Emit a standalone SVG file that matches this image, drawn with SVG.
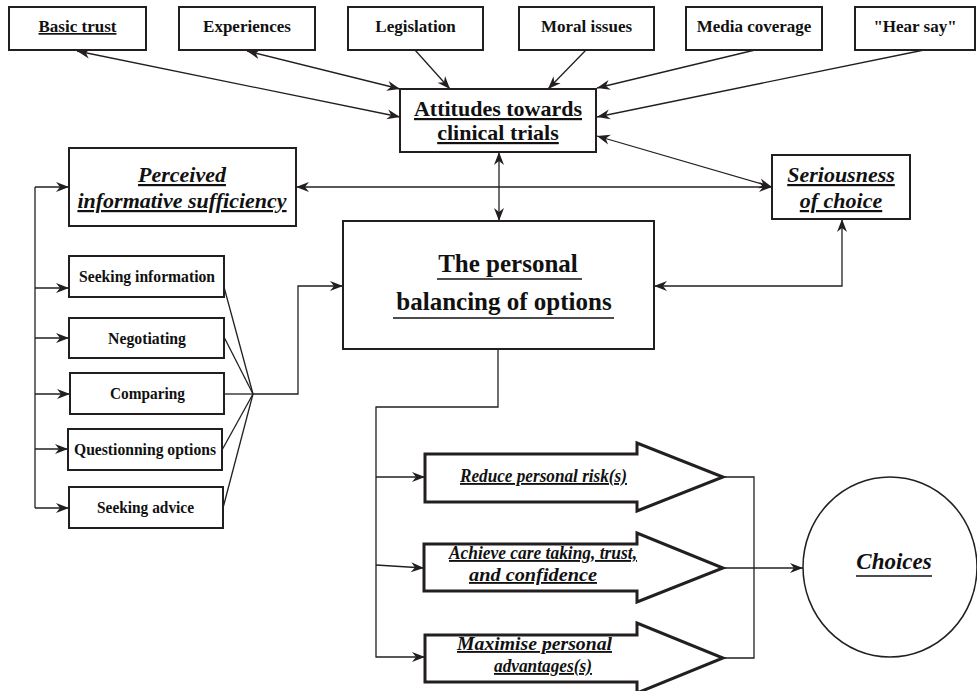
<svg xmlns="http://www.w3.org/2000/svg" width="977" height="691" viewBox="0 0 977 691">
<style>
  .box { fill: #fff; stroke: #231f20; stroke-width: 2; }
  .big { fill: #fff; stroke: #231f20; stroke-width: 3; stroke-linejoin: miter; }
  .ln { fill: none; stroke: #231f20; stroke-width: 1.3; }
  .t { font-family: "Liberation Serif", "Times New Roman", serif; font-weight: bold; fill: #111; text-anchor: middle; }
  .top { font-size: 17px; }
  .mid { font-size: 22px; }
  .sm { font-size: 16.5px; }
  .arr { font-size: 18.5px; font-style: italic; }
  .it { font-style: italic; }
  .u { text-decoration: underline; }
  .ul { stroke: #111; stroke-width: 1.3; }
</style>
<defs>
  <marker id="ah" viewBox="-14 -6 15 12" refX="0" refY="0" markerWidth="15" markerHeight="12" markerUnits="userSpaceOnUse" orient="auto-start-reverse">
    <path d="M-13,-5 L0,0 L-13,5 L-9,0 Z" fill="#231f20"/>
  </marker>
</defs>

<g id="connectors">
  <line class="ln" x1="77" y1="51" x2="400" y2="117" marker-start="url(#ah)" marker-end="url(#ah)"/>
  <line class="ln" x1="247" y1="51" x2="400" y2="89" marker-start="url(#ah)" marker-end="url(#ah)"/>
  <line class="ln" x1="415" y1="50" x2="450" y2="89" marker-end="url(#ah)"/>
  <line class="ln" x1="586" y1="50" x2="548" y2="89" marker-end="url(#ah)"/>
  <line class="ln" x1="755" y1="50" x2="597" y2="88" marker-end="url(#ah)"/>
  <line class="ln" x1="924" y1="50" x2="597" y2="117" marker-end="url(#ah)"/>
  <line class="ln" x1="597" y1="136" x2="772" y2="187" marker-start="url(#ah)" marker-end="url(#ah)"/>
  <line class="ln" x1="296" y1="187" x2="772" y2="187" marker-start="url(#ah)" marker-end="url(#ah)"/>
  <line class="ln" x1="499" y1="152" x2="499" y2="221" marker-start="url(#ah)" marker-end="url(#ah)"/>
  <path class="ln" d="M654,286 L842,286 L842,219" marker-start="url(#ah)" marker-end="url(#ah)"/>
  <!-- left bus -->
  <line class="ln" x1="35" y1="187" x2="35" y2="508"/>
  <line class="ln" x1="35" y1="187" x2="69" y2="187" marker-end="url(#ah)"/>
  <line class="ln" x1="35" y1="288" x2="69" y2="288" marker-end="url(#ah)"/>
  <line class="ln" x1="35" y1="338" x2="69" y2="338" marker-end="url(#ah)"/>
  <line class="ln" x1="35" y1="394" x2="70" y2="394" marker-end="url(#ah)"/>
  <line class="ln" x1="35" y1="449" x2="68" y2="449" marker-end="url(#ah)"/>
  <line class="ln" x1="35" y1="508" x2="69" y2="508" marker-end="url(#ah)"/>
  <!-- fan -->
  <line class="ln" x1="224" y1="287" x2="253" y2="394"/>
  <line class="ln" x1="224" y1="337" x2="253" y2="394"/>
  <line class="ln" x1="224" y1="394" x2="253" y2="394"/>
  <line class="ln" x1="222" y1="450" x2="253" y2="394"/>
  <line class="ln" x1="223" y1="508" x2="253" y2="394"/>
  <path class="ln" d="M253,394 L298,394 L298,286 L343,286" marker-end="url(#ah)"/>
  <!-- bottom -->
  <path class="ln" d="M498,349 L498,407 L376,407 L376,657 L425,657" marker-end="url(#ah)"/>
  <line class="ln" x1="376" y1="477" x2="425" y2="477" marker-end="url(#ah)"/>
  <line class="ln" x1="376" y1="565" x2="424" y2="568" marker-end="url(#ah)"/>
  <path class="ln" d="M723,477 L754,477 L754,658 L723,658"/>
  <line class="ln" x1="723" y1="568" x2="803" y2="568" marker-end="url(#ah)"/>
</g>

<g id="basic-trust"><rect class="box" x="9" y="7" width="137" height="43"/><text class="t top u" x="77.5" y="32">Basic trust</text></g>
<g id="experiences"><rect class="box" x="179" y="7" width="136" height="43"/><text class="t top" x="247" y="32">Experiences</text></g>
<g id="legislation"><rect class="box" x="348" y="7" width="135" height="43"/><text class="t top" x="415.5" y="32">Legislation</text></g>
<g id="moral-issues"><rect class="box" x="519" y="7" width="135" height="43"/><text class="t top" x="586.5" y="32">Moral issues</text></g>
<g id="media-coverage"><rect class="box" x="686" y="7" width="136" height="43"/><text class="t top" x="754" y="32">Media coverage</text></g>
<g id="hear-say"><rect class="box" x="855" y="7" width="120" height="43"/><text class="t top" x="915" y="32">"Hear say"</text></g>

<g id="attitudes"><rect class="box" x="400" y="89" width="196" height="63"/>
  <text class="t mid u" x="498" y="116">Attitudes towards</text>
  <text class="t mid u" x="498" y="140">clinical trials</text></g>

<g id="perceived"><rect class="box" x="69" y="148" width="227" height="78"/>
  <text class="t mid it u" x="182" y="182">Perceived</text>
  <text class="t mid it u" x="182" y="208">informative sufficiency</text></g>

<g id="seriousness"><rect class="box" x="772" y="155" width="138" height="64"/>
  <text class="t mid it u" x="841" y="182">Seriousness</text>
  <text class="t mid it u" x="841" y="208">of choice</text></g>

<g id="personal-balancing"><rect class="box" x="343" y="221" width="311" height="128"/>
  <text class="t" x="508" y="272" font-size="25">The personal</text>
  <line class="ul" x1="437" y1="279" x2="582" y2="279"/>
  <text class="t" x="504" y="310" font-size="25">balancing of options</text>
  <line class="ul" x1="393" y1="318" x2="614" y2="318"/></g>

<g id="seeking-information"><rect class="box" x="69" y="256" width="155" height="41"/><text class="t sm" x="147" y="282" textLength="136" lengthAdjust="spacingAndGlyphs">Seeking information</text></g>
<g id="negotiating"><rect class="box" x="69" y="318" width="155" height="40"/><text class="t sm" x="147" y="343.5" textLength="78" lengthAdjust="spacingAndGlyphs">Negotiating</text></g>
<g id="comparing"><rect class="box" x="70" y="373" width="154" height="41"/><text class="t sm" x="147.5" y="399" textLength="75" lengthAdjust="spacingAndGlyphs">Comparing</text></g>
<g id="questionning"><rect class="box" x="68" y="429" width="154" height="41"/><text class="t sm" x="145" y="455" textLength="142" lengthAdjust="spacingAndGlyphs">Questionning options</text></g>
<g id="seeking-advice"><rect class="box" x="69" y="487" width="154" height="41"/><text class="t sm" x="145.5" y="513" textLength="97" lengthAdjust="spacingAndGlyphs">Seeking advice</text></g>

<g id="reduce-risk"><polygon class="big" points="425,454 637,454 637,443 723,477 637,511 637,502 425,502"/>
  <text class="t arr u" x="543.5" y="482" textLength="167" lengthAdjust="spacingAndGlyphs">Reduce personal risk(s)</text></g>
<g id="achieve-care"><polygon class="big" points="424,544 637,544 637,533 723,568 637,602 637,591 424,591"/>
  <text class="t arr u" x="543" y="559" textLength="188" lengthAdjust="spacingAndGlyphs">Achieve care taking, trust,</text>
  <text class="t arr u" x="533" y="581" textLength="128" lengthAdjust="spacingAndGlyphs">and confidence</text></g>
<g id="maximise"><polygon class="big" points="425,635 637,635 637,623 723,658 637,693 637,682 425,682"/>
  <text class="t arr u" x="534.5" y="650" textLength="155" lengthAdjust="spacingAndGlyphs">Maximise personal</text>
  <text class="t arr u" x="543" y="672" textLength="98" lengthAdjust="spacingAndGlyphs">advantages(s)</text></g>

<g id="choices"><ellipse cx="890" cy="567" rx="87" ry="90" fill="#fff" stroke="#231f20" stroke-width="1.5"/>
  <text class="t it" x="894" y="569" font-size="23">Choices</text>
  <line class="ul" x1="856" y1="576" x2="932" y2="576"/></g>
</svg>
